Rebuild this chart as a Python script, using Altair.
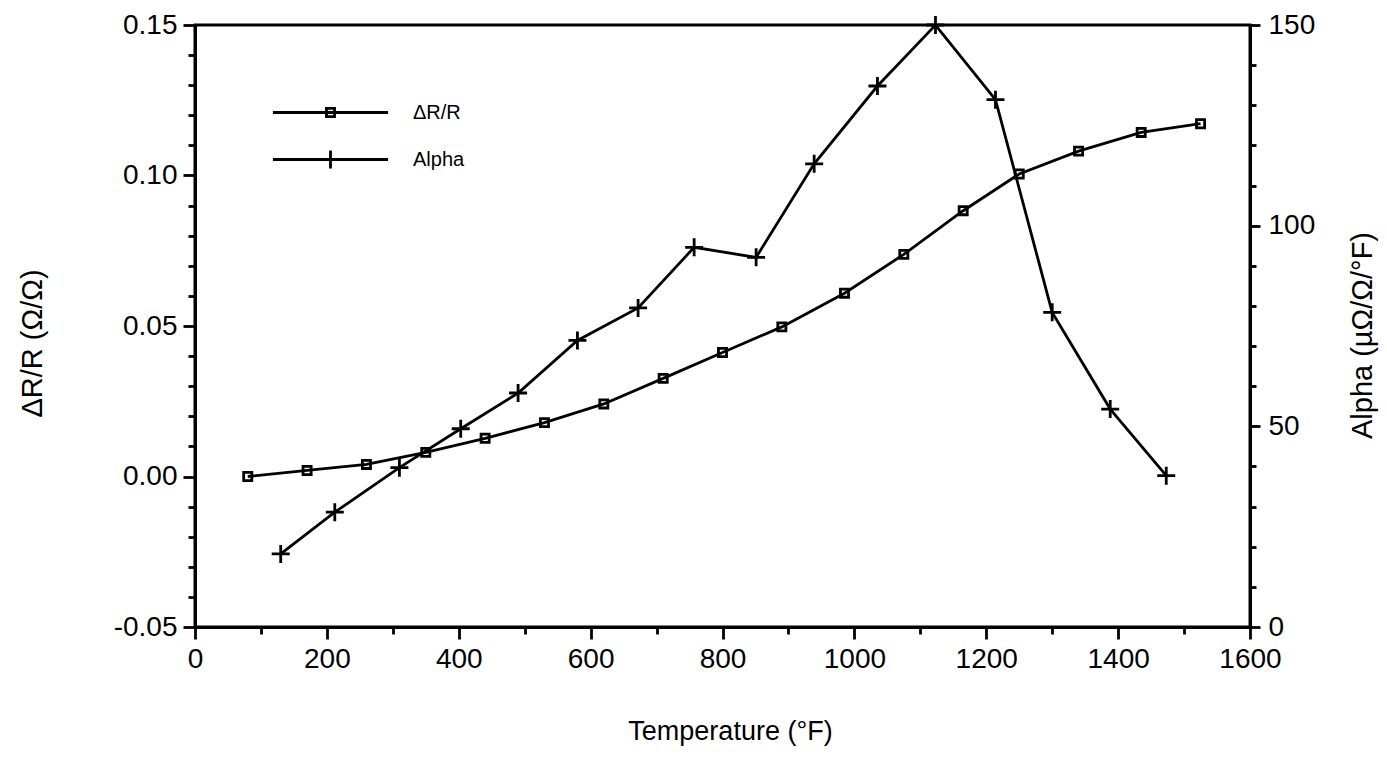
import altair as alt
import pandas as pd

# ---- data ----
temp_dr = [80, 170, 260, 350, 440, 530, 620, 710, 800, 890, 985, 1075, 1165, 1250, 1340, 1435, 1525]
dr_values = [0.000, 0.002, 0.004, 0.008, 0.0127, 0.0179, 0.0241, 0.0326, 0.0412, 0.0497,
             0.0609, 0.0738, 0.0883, 0.1005, 0.1081, 0.1143, 0.1172]

temp_alpha = [130, 212, 310, 403, 490, 580, 672, 757, 851, 939, 1035, 1123, 1214, 1300, 1388, 1473]
alpha_values = [18.2, 28.6, 39.7, 49.4, 58.3, 71.4, 79.5, 94.6, 92.1, 115.4, 134.8, 150.0,
                131.4, 78.4, 54.3, 37.7]

series_names = ["ΔR/R", "Alpha"]

x_ticks = list(range(0, 1601, 100))
left_ticks = [round(-0.05 + 0.01 * i, 2) for i in range(21)]
right_ticks = list(range(0, 151, 10))

FONT = "Liberation Sans"
LW = 2.8

df_dr = pd.DataFrame({"temp": temp_dr, "value": dr_values, "series": series_names[0]})
df_al = pd.DataFrame({"temp": temp_alpha, "value": alpha_values, "series": series_names[1]})
df_leg = pd.DataFrame({"series": series_names})

# marker shapes (unit box -1..1)
SQ = "M-0.45,-0.45H0.45V0.45H-0.45Z"
CR = "M-1,0H1M0,-1V1"
LEG_SQ = "M-6.4,0H6.4" + SQ
LEG_CR = "M-6.4,0H6.4M0,-1V1"

x_enc = alt.X(
    "temp:Q",
    scale=alt.Scale(domain=[0, 1600], nice=False, zero=False),
    axis=alt.Axis(
        values=x_ticks,
        format="d",
        labelExpr="datum.value % 200 === 0 ? datum.label : ''",
        tickSize={"condition": {"test": "datum.value % 200 === 0", "value": 12}, "value": 7},
        title="Temperature (°F)",
        titleX=535,
        titleY=104,
        titleAlign="center",
        titleBaseline="middle",
        titleFontSize=27,
        labelPadding=6,
        labelFlush=False,
        labelOverlap=False,
    ),
)

# ---- left axis layer ----
base_dr = alt.Chart(df_dr).encode(
    x=x_enc,
    y=alt.Y(
        "value:Q",
        scale=alt.Scale(domain=[-0.05, 0.15], nice=False, zero=False),
        axis=alt.Axis(
            orient="left",
            values=left_ticks,
            labelExpr="abs(round(datum.value*100)) % 5 === 0 ? replace(format(datum.value, '.2f'), '\u2212', '-') : ''",
            tickSize={"condition": {"test": "abs(round(datum.value*100)) % 5 === 0", "value": 12}, "value": 7},
            title="ΔR/R (Ω/Ω)",
            titleAngle=270,
            titleX=-163,
            titleY=318,
            titleAlign="center",
            titleBaseline="middle",
            titleFontSize=29,
            labelPadding=6,
            labelFlush=False,
            labelOverlap=False,
        ),
    ),
)
line_dr = base_dr.mark_line(color="black", strokeWidth=LW)
pts_dr = base_dr.mark_point(shape=SQ, filled=False, size=324, strokeWidth=LW, color="black", opacity=1)

# ---- right axis layer ----
base_al = alt.Chart(df_al).encode(
    x=x_enc,
    y=alt.Y(
        "value:Q",
        scale=alt.Scale(domain=[0, 150], nice=False, zero=False),
        axis=alt.Axis(
            orient="right",
            values=right_ticks,
            labelExpr="datum.value % 50 === 0 ? datum.label : ''",
            tickSize={"condition": {"test": "datum.value % 50 === 0", "value": 10}, "value": 6},
            title="Alpha (µΩ/Ω/°F)",
            titleAngle=270,
            titleX=112,
            titleY=310,
            titleAlign="center",
            titleBaseline="middle",
            titleFontSize=29,
            labelPadding=8,
            labelFlush=False,
            labelOverlap=False,
        ),
    ),
)
line_al = base_al.mark_line(color="black", strokeWidth=LW)
pts_al = base_al.mark_point(shape=CR, filled=False, size=324, strokeWidth=LW, color="black", opacity=1)

# ---- legend-only layer (no data rows drawn; legend from explicit shape domain) ----
legend = alt.Legend(
    title=None,
    orient="none",
    legendX=125,
    legendY=77,
    symbolSize=324,
    symbolStrokeWidth=LW,
    symbolStrokeColor="black",
    symbolFillColor="transparent",
    symbolOpacity=1,
    labelFont=FONT,
    labelFontSize=20,
    labelColor="black",
    labelOffset=72,
    rowPadding=21,
    padding=0,
)
leg_layer = (
    alt.Chart(df_leg)
    .transform_filter("false")
    .mark_point(filled=False, size=324, strokeWidth=LW, color="black", opacity=1)
    .encode(
        shape=alt.Shape(
            "series:N",
            scale=alt.Scale(domain=series_names, range=[LEG_SQ, LEG_CR]),
            legend=legend,
        )
    )
)

chart = (
    alt.layer(alt.layer(line_dr, pts_dr), alt.layer(line_al, pts_al), leg_layer)
    .resolve_scale(y="independent")
    .properties(
        width=1055,
        height=602,
        padding={"left": 195, "top": 25, "right": 137, "bottom": 131},
        autosize=alt.AutoSizeParams(type="none"),
        background="white",
    )
    .configure_view(stroke="black", strokeWidth=3)
    .configure_axis(
        grid=False,
        domainColor="black",
        domainWidth=3,
        tickColor="black",
        tickWidth=2.8,
        labelFont=FONT,
        labelFontSize=28,
        labelColor="black",
        titleFont=FONT,
        titleFontSize=28,
        titleFontWeight="normal",
        titleColor="black",
    )
)

chart.save("out.html", embed_options={"renderer": "svg", "actions": False})
